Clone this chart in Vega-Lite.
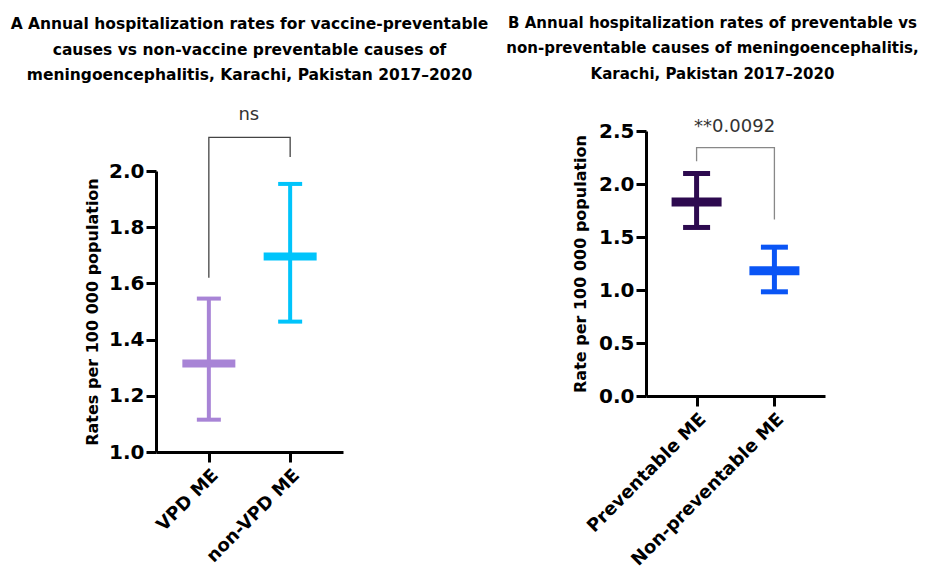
{
  "$schema": "https://vega.github.io/schema/vega-lite/v6.json",
  "background": "white",
  "padding": {"left": 10, "top": 15, "right": 0, "bottom": 0},
  "config": {
    "font": "DejaVu Sans",
    "view": {"stroke": null},
    "tick": {"opacity": 1},
    "rule": {"opacity": 1},
    "scale": {"continuousPadding": 0},
    "axis": {"domainColor": "#000", "domainWidth": 3, "tickColor": "#000", "tickWidth": 3, "tickSize": 10, "labelFont": "DejaVu Sans", "labelFontWeight": "bold", "labelColor": "#000", "labelFontSize": 20, "labelLimit": 400, "titleFont": "DejaVu Sans", "titleFontWeight": "bold", "titleFontSize": 16, "titleColor": "#000", "grid": false},
    "title": {"font": "DejaVu Sans", "fontWeight": "bold", "fontSize": 15.5, "color": "#000", "lineHeight": 25.5, "anchor": "middle", "frame": "group"}
  },
  "datasets": {
    "a": [
      {"group": "VPD ME", "mean": 1.315, "lo": 1.115, "hi": 1.546},
      {"group": "non-VPD ME", "mean": 1.696, "lo": 1.464, "hi": 1.954}
    ],
    "b": [
      {"group": "Preventable ME", "mean": 1.831, "lo": 1.59, "hi": 2.099},
      {"group": "Non-preventable ME", "mean": 1.181, "lo": 0.983, "hi": 1.404}
    ],
    "a_br": [
      {"group": "VPD ME", "v": 1.62, "k": 1},
      {"group": "VPD ME", "v": 2.12, "k": 2},
      {"group": "non-VPD ME", "v": 2.12, "k": 3},
      {"group": "non-VPD ME", "v": 2.05, "k": 4}
    ],
    "b_br": [
      {"group": "Preventable ME", "v": 2.215, "k": 1},
      {"group": "Preventable ME", "v": 2.343, "k": 2},
      {"group": "Non-preventable ME", "v": 2.343, "k": 3},
      {"group": "Non-preventable ME", "v": 1.665, "k": 4}
    ],
    "a_lab": [{"group": "VPD ME", "v": 2.2, "label": "ns"}],
    "b_lab": [{"group": "Preventable ME", "v": 2.54, "label": "**0.0092"}]
  },
  "bounds": "flush",
  "spacing": 303,
  "resolve": {"scale": {"x": "independent", "y": "independent"}},
  "hconcat": [
    {
      "width": 187,
      "height": 321,
      "title": {"text": ["A Annual hospitalization rates for vaccine-preventable", "causes vs non-vaccine preventable causes of", "meningoencephalitis,  Karachi, Pakistan 2017–2020"], "offset": 22},
      "encoding": {
        "x": {"field": "group", "type": "nominal", "sort": ["VPD ME", "non-VPD ME"], "scale": {"type": "point", "padding": 0.65}, "axis": {"title": null, "labelAngle": -45, "labelFontSize": 18, "labelPadding": 4}}
      },
      "layer": [
        {
          "data": {"name": "a"},
          "mark": {"type": "rule", "strokeWidth": 4},
          "encoding": {
            "y": {"field": "lo", "type": "quantitative", "scale": {"domain": [1, 2], "range": [321, 40], "nice": false, "zero": false}, "axis": {"title": "Rates per 100 000 population", "values": [1, 1.2, 1.4, 1.6, 1.8, 2], "format": ".1f", "titlePadding": 8}},
            "y2": {"field": "hi"},
            "color": {"field": "group", "type": "nominal", "scale": {"domain": ["VPD ME", "non-VPD ME", "Preventable ME", "Non-preventable ME"], "range": ["#a884d6", "#00c4fb", "#2d0a4f", "#0a55f5"]}, "legend": null}
          }
        },
        {
          "data": {"name": "a"},
          "mark": {"type": "tick", "size": 24, "thickness": 4},
          "encoding": {"y": {"field": "lo", "type": "quantitative"}, "color": {"field": "group", "type": "nominal", "legend": null}}
        },
        {
          "data": {"name": "a"},
          "mark": {"type": "tick", "size": 24, "thickness": 4},
          "encoding": {"y": {"field": "hi", "type": "quantitative"}, "color": {"field": "group", "type": "nominal", "legend": null}}
        },
        {
          "data": {"name": "a"},
          "mark": {"type": "tick", "size": 53, "thickness": 8},
          "encoding": {"y": {"field": "mean", "type": "quantitative"}, "color": {"field": "group", "type": "nominal", "legend": null}}
        },
        {
          "data": {"name": "a_br"},
          "mark": {"type": "line", "color": "#444", "strokeWidth": 1.3},
          "encoding": {"y": {"field": "v", "type": "quantitative"}, "order": {"field": "k"}}
        },
        {
          "data": {"name": "a_lab"},
          "mark": {"type": "text", "dx": 40, "fontSize": 18, "color": "#333", "baseline": "middle", "align": "center"},
          "encoding": {"y": {"field": "v", "type": "quantitative"}, "text": {"field": "label"}}
        }
      ]
    },
    {
      "width": 179,
      "height": 265,
      "title": {"text": ["B Annual hospitalization rates of preventable vs", "non-preventable causes of meningoencephalitis,", "Karachi,  Pakistan 2017–2020"], "offset": 36, "dx": -23, "fontSize": 15},
      "encoding": {
        "x": {"field": "group", "type": "nominal", "sort": ["Preventable ME", "Non-preventable ME"], "scale": {"type": "point", "padding": 0.65}, "axis": {"title": null, "labelAngle": -45, "labelFontSize": 18, "labelPadding": 4}}
      },
      "layer": [
        {
          "data": {"name": "b"},
          "mark": {"type": "rule", "strokeWidth": 5},
          "encoding": {
            "y": {"field": "lo", "type": "quantitative", "scale": {"domain": [0, 2.5], "range": [265, 0], "nice": false}, "axis": {"title": "Rate per 100 000 population", "values": [0, 0.5, 1, 1.5, 2, 2.5], "format": ".1f", "titlePadding": 10}},
            "y2": {"field": "hi"},
            "color": {"field": "group", "type": "nominal", "legend": null}
          }
        },
        {
          "data": {"name": "b"},
          "mark": {"type": "tick", "size": 27, "thickness": 5},
          "encoding": {"y": {"field": "lo", "type": "quantitative"}, "color": {"field": "group", "type": "nominal", "legend": null}}
        },
        {
          "data": {"name": "b"},
          "mark": {"type": "tick", "size": 27, "thickness": 5},
          "encoding": {"y": {"field": "hi", "type": "quantitative"}, "color": {"field": "group", "type": "nominal", "legend": null}}
        },
        {
          "data": {"name": "b"},
          "mark": {"type": "tick", "size": 50, "thickness": 9},
          "encoding": {"y": {"field": "mean", "type": "quantitative"}, "color": {"field": "group", "type": "nominal", "legend": null}}
        },
        {
          "data": {"name": "b_br"},
          "mark": {"type": "line", "color": "#888", "strokeWidth": 1.3},
          "encoding": {"y": {"field": "v", "type": "quantitative"}, "order": {"field": "k"}}
        },
        {
          "data": {"name": "b_lab"},
          "mark": {"type": "text", "dx": 38, "fontSize": 18, "color": "#333", "baseline": "middle", "align": "center"},
          "encoding": {"y": {"field": "v", "type": "quantitative"}, "text": {"field": "label"}}
        }
      ]
    }
  ]
}
